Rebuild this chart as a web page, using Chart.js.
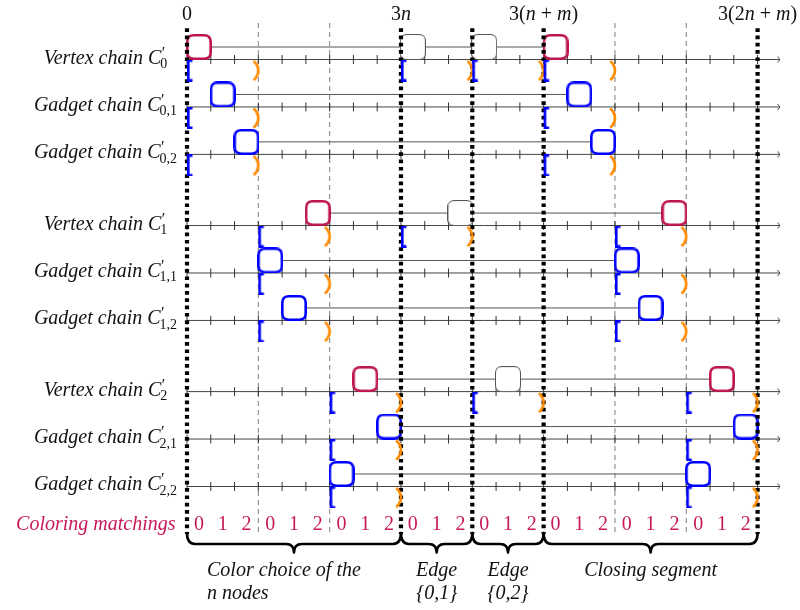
<!DOCTYPE html>
<html><head><meta charset="utf-8">
<script src="https://cdn.jsdelivr.net/npm/chart.js@4"></script>
<style>html,body{margin:0;padding:0;background:#fff}canvas{display:block}</style>
</head><body>
<canvas id="c" width="800" height="610"></canvas>
<script>
// ---------------- DATA ----------------
const rowNames = ['Vertex chain','Gadget chain','Gadget chain','Vertex chain','Gadget chain','Gadget chain','Vertex chain','Gadget chain','Gadget chain'];
const rowSubscripts = ['0','0,1','0,2','1','1,1','1,2','2','2,1','2,2'];
const rowLevels = [0, 1, 2, 3.5, 4.5, 5.5, 7, 8, 9];
const boxSlots = [[0,9,12,15],[1,16],[2,17],[5,11,20],[3,18],[4,19],[7,13,22],[8,23],[6,21]];
const boxKinds = [
  ['vertex','edge','edge','vertex'],['gadget','gadget'],['gadget','gadget'],
  ['vertex','edge','vertex'],['gadget','gadget'],['gadget','gadget'],
  ['vertex','edge','vertex'],['gadget','gadget'],['gadget','gadget']
];
const matchOpen  = [[0,9,12,15],[0,15],[0,15],[3,9,18],[3,18],[3,18],[6,12,21],[6,21],[6,21]];
const matchClose = [[3,12,15,18],[3,18],[3,18],[6,12,21],[6,21],[6,21],[9,15,24],[9,24],[9,24]];
const tickValues = [0,1,2,3,4,5,6,7,8,9,10,11,12,13,14,15,16,17,18,19,20,21,22,23,24];
const thickBoundaries = [0, 9, 12, 15, 24];
const thinBoundaries = [3, 6, 18, 21];
const topTickValues = [0, 9, 15, 24];
const topTickLabels = ['0', '3n', '3(n + m)', '3(2n + m)'];
const coloringDigits = ['0','1','2','0','1','2','0','1','2','0','1','2','0','1','2','0','1','2','0','1','2','0','1','2'];
const segmentStarts = [0, 9, 12, 15];
const segmentEnds = [9, 12, 15, 24];
const segmentLabels = [['Color choice of the','n nodes'],['Edge','{0,1}'],['Edge','{0,2}'],['Closing segment']];

// ---------------- STYLE / LAYOUT ----------------
const W = 800, H = 610;
const X0_PX = 187, X_UNIT = 23.775, Y0_PX = 59.5, Y_UNIT = 47.444;
const xMin = -X0_PX / X_UNIT, xMax = (W - X0_PX) / X_UNIT;
const yMin = -Y0_PX / Y_UNIT, yMax = (H - Y0_PX) / Y_UNIT;
const AXIS_END = 24.94;
const BOX_LIFT = 12.5 / Y_UNIT;
const MARK_DROP = 11 / Y_UNIT;
const THICK_TOP = -0.66, THIN_TOP = -0.77, V_BOTTOM = 10.0;
const TOP_LABEL_LEVEL = (20 - Y0_PX) / Y_UNIT;
const COLOR_LEVEL = (530 - Y0_PX) / Y_UNIT;
const BRACE_LEVEL = (544 - Y0_PX) / Y_UNIT;
const ROW_LABEL_X = (105.5 - X0_PX) / X_UNIT;
const COLOR_LABEL_X = (175.5 - X0_PX) / X_UNIT;
const CRIMSON = '#BE1450', CRIMSON_TEXT = '#C8185A', BLUE = '#0000FF', ORANGE = '#FF8A00';
const SERIF = '"Liberation Serif","Times New Roman",serif';
const FS = 20;
const f = (s, it) => (it ? 'italic ' : '') + s + 'px ' + SERIF;

function makeCanvas(w, h, draw) { const c = document.createElement('canvas'); c.width = w; c.height = h; draw(c.getContext('2d')); return c; }
function rr(g, x, y, w, h, r) {
  g.beginPath(); g.moveTo(x + r, y); g.lineTo(x + w - r, y); g.quadraticCurveTo(x + w, y, x + w, y + r);
  g.lineTo(x + w, y + h - r); g.quadraticCurveTo(x + w, y + h, x + w - r, y + h); g.lineTo(x + r, y + h);
  g.quadraticCurveTo(x, y + h, x, y + h - r); g.lineTo(x, y + r); g.quadraticCurveTo(x, y, x + r, y); g.closePath();
}
function boxImg(stroke, lw) {
  return makeCanvas(26, 26, g => { rr(g, lw / 2, lw / 2, 26 - lw, 26 - lw, 6.5); g.fillStyle = '#fff'; g.fill(); g.strokeStyle = stroke; g.lineWidth = lw; g.stroke(); });
}
const boxImgs = { vertex: boxImg(CRIMSON, 2.6), gadget: boxImg(BLUE, 2.6), edge: boxImg('#555', 1) };
const openImg = makeCanvas(14, 22, g => { g.strokeStyle = BLUE; g.lineWidth = 2.6; g.beginPath(); g.moveTo(12.5, 1.3); g.lineTo(8.3, 1.3); g.lineTo(8.3, 20.7); g.lineTo(12.5, 20.7); g.stroke(); });
const closeImg = makeCanvas(20, 24, g => {
  g.strokeStyle = ORANGE; g.lineWidth = 2.6; g.lineCap = 'butt';
  const R = 11.6, cx = 10 - R, cy = 12;
  g.beginPath(); g.arc(cx, cy, R, -Math.PI / 3.3, Math.PI / 3.3); g.stroke();
});
const arrowImg = makeCanvas(8, 8, g => { g.strokeStyle = '#444'; g.lineWidth = 1; g.beginPath(); g.moveTo(1.5, 1); g.lineTo(4, 4); g.lineTo(1.5, 7); g.stroke(); });

function lineDS(data, color, width, dash) {
  return { data, showLine: true, borderColor: color, borderWidth: width, borderDash: dash || [], pointRadius: 0, pointHoverRadius: 0, fill: false, clip: false, tension: 0 };
}
function pointDS(data, style, extra) {
  return Object.assign({ data, showLine: false, pointStyle: style, pointRadius: 15, pointHoverRadius: 15, clip: false }, extra || {});
}

// build layers bottom -> top
const layers = [];
thinBoundaries.forEach(b => layers.push(lineDS([{x: b, y: THIN_TOP}, {x: b, y: V_BOTTOM}], '#8a8a8a', 1.1, [5, 4])));
rowLevels.forEach(l => layers.push(lineDS([{x: 0, y: l}, {x: AXIS_END, y: l}], '#444', 1)));
layers.push(pointDS(rowLevels.flatMap(l => tickValues.map(t => ({x: t, y: l}))), 'line',
  { pointRotation: 90, pointRadius: 4.5, pointHoverRadius: 4.5, pointBorderColor: '#333', pointBorderWidth: 1 }));
layers.push(pointDS(rowLevels.map(l => ({x: AXIS_END, y: l})), arrowImg));
rowLevels.forEach((l, i) => {
  const s = boxSlots[i];
  layers.push(lineDS([{x: s[0] + 0.5, y: l - BOX_LIFT}, {x: s[s.length - 1] + 0.5, y: l - BOX_LIFT}], '#555', 1));
});
['edge', 'gadget', 'vertex'].forEach(kind => {
  const pts = [];
  rowLevels.forEach((l, i) => boxSlots[i].forEach((s, j) => { if (boxKinds[i][j] === kind) pts.push({x: s + 0.5, y: l - BOX_LIFT}); }));
  layers.push(pointDS(pts, boxImgs[kind]));
});
thickBoundaries.forEach(b => layers.push(lineDS([{x: b, y: THICK_TOP}, {x: b, y: V_BOTTOM}], '#000', 4.2, [3.7, 3.6])));
layers.push(pointDS(rowLevels.flatMap((l, i) => matchClose[i].map(v => ({x: v, y: l + MARK_DROP}))), closeImg));
layers.push(pointDS(rowLevels.flatMap((l, i) => matchOpen[i].map(v => ({x: v, y: l + MARK_DROP}))), openImg));

// ---------------- TEXT HELPERS ----------------
function drawMath(ctx, str, xc, y, size) {
  const runs = [...str].map(ch => ({ t: ch, it: /[a-z]/.test(ch) }));
  let total = 0;
  runs.forEach(r => { ctx.font = f(size, r.it); r.w = ctx.measureText(r.t).width; total += r.w; });
  let x = xc - total / 2;
  ctx.textAlign = 'left';
  runs.forEach(r => { ctx.font = f(size, r.it); ctx.fillText(r.t, x, y); x += r.w; });
}
function drawChainLabel(ctx, name, sub, xc, y) {
  ctx.textAlign = 'left'; ctx.fillStyle = '#111';
  ctx.font = f(FS, true); const w1 = ctx.measureText(name + ' ').width; const wC = ctx.measureText('C').width;
  ctx.font = f(15, false); const wp = ctx.measureText('\u2032').width;
  ctx.font = f(14, false); const ws = ctx.measureText(sub).width;
  const total = w1 + wC + Math.max(wp + 1, ws - 1);
  let x = xc - total / 2;
  ctx.font = f(FS, true); ctx.fillText(name + ' ', x, y); x += w1; ctx.fillText('C', x, y); x += wC;
  ctx.font = f(16, false); ctx.fillText('\u2032', x + 0.5, y - 6);
  ctx.font = f(14, false); ctx.fillText(sub, x - 1, y + 4.5);
}

const textPlugin = {
  id: 'texts',
  afterDraw(chart) {
    const ctx = chart.ctx, xs = chart.scales.x, ys = chart.scales.y;
    const X = v => xs.getPixelForValue(v), Y = v => ys.getPixelForValue(v);
    ctx.save();
    ctx.textBaseline = 'alphabetic';
    ctx.fillStyle = '#111';
    topTickValues.forEach((v, i) => drawMath(ctx, topTickLabels[i], X(v), Y(TOP_LABEL_LEVEL), FS));
    rowLevels.forEach((l, i) => drawChainLabel(ctx, rowNames[i], rowSubscripts[i], X(ROW_LABEL_X), Y(l) + 4));
    ctx.fillStyle = CRIMSON_TEXT; ctx.font = f(FS, true); ctx.textAlign = 'right';
    ctx.fillText('Coloring matchings', X(COLOR_LABEL_X), Y(COLOR_LEVEL));
    ctx.font = f(FS, false); ctx.textAlign = 'center';
    coloringDigits.forEach((d, i) => ctx.fillText(d, X(tickValues[i] + 0.5), Y(COLOR_LEVEL)));
    // braces
    ctx.strokeStyle = '#000'; ctx.lineWidth = 2.6; ctx.lineCap = 'round'; ctx.lineJoin = 'round';
    const yb = Y(BRACE_LEVEL), rise = 11, tip = 8.5, r = 8;
    segmentStarts.forEach((a, i) => {
      const x0 = X(a), x1 = X(segmentEnds[i]), mid = (x0 + x1) / 2;
      ctx.beginPath();
      ctx.moveTo(x0, yb - rise);
      ctx.quadraticCurveTo(x0, yb, x0 + r, yb);
      ctx.lineTo(mid - r, yb);
      ctx.quadraticCurveTo(mid, yb, mid, yb + tip);
      ctx.quadraticCurveTo(mid, yb, mid + r, yb);
      ctx.lineTo(x1 - r, yb);
      ctx.quadraticCurveTo(x1, yb, x1, yb - rise);
      ctx.stroke();
      const lines = segmentLabels[i];
      ctx.fillStyle = '#111'; ctx.font = f(FS, true);
      lines.forEach((t, k) => {
        const yy = yb + 32 + k * 23;
        if (lines.length === 2 && i === 0) { ctx.textAlign = 'left'; ctx.fillText(t, mid - 87, yy); }
        else { ctx.textAlign = 'center'; ctx.fillText(t, mid, yy); }
      });
    });
    ctx.restore();
  }
};

new Chart(document.getElementById('c'), {
  type: 'scatter',
  data: { datasets: layers.slice().reverse() },
  options: {
    responsive: false, animation: false, events: [], devicePixelRatio: 1,
    layout: { padding: 0, autoPadding: false },
    plugins: { legend: { display: false }, tooltip: { enabled: false } },
    scales: {
      x: { type: 'linear', min: xMin, max: xMax, bounds: 'data', display: false },
      y: { type: 'linear', min: yMin, max: yMax, bounds: 'data', reverse: true, display: false }
    }
  },
  plugins: [textPlugin]
});
</script>
</body></html>
